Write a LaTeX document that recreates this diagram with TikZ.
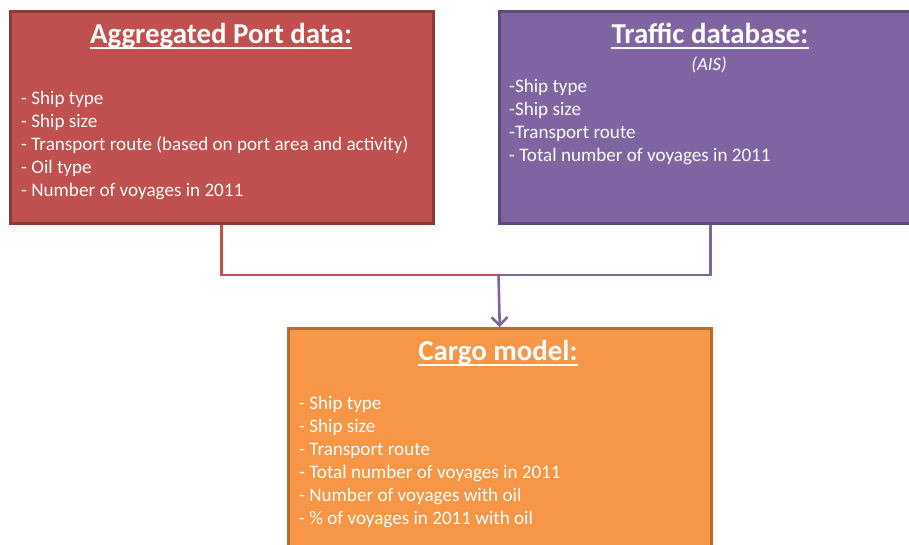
\documentclass[tikz,border=0pt]{standalone}
\usepackage{fontspec}
\setmainfont{Carlito}
\usetikzlibrary{arrows.meta}
\definecolor{redfill}{HTML}{C0504D}
\definecolor{redborder}{HTML}{8C3A38}
\definecolor{purfill}{HTML}{8064A2}
\definecolor{purborder}{HTML}{5D4A78}
\definecolor{orgfill}{HTML}{F79646}
\definecolor{orgborder}{HTML}{B66D31}
\begin{document}
\begin{tikzpicture}[x=1pt,y=-1pt,
  box/.style={draw, line width=2.5pt, minimum width=423pt, inner sep=0pt, anchor=north west},
  ttl/.style={text=white, font=\fontsize{28.9}{34}\selectfont\bfseries, inner sep=0pt, anchor=base},
  bodytext/.style={text=white, font=\fontsize{19.1}{23}\selectfont, inner sep=0pt, anchor=base west},
  uline/.style={white, line width=2.4pt},
  conn/.style={line width=2.6pt}]
\useasboundingbox (0,0) rectangle (909,544);
\clip (0,0) rectangle (909,544);
% boxes
\node[box, fill=redfill, draw=redborder, minimum height=212pt] (red) at (9,10) {};
\node[box, fill=purfill, draw=purborder, minimum height=212pt] (pur) at (498,10) {};
\node[box, fill=orgfill, draw=orgborder, minimum height=240pt] (org) at (287,327) {};
% titles
\node[ttl] (rt) at (221,43) {Aggregated Port data:};
\draw[uline] ([yshift=-5pt]rt.base west) -- ([yshift=-5pt]rt.base east);
\node[ttl] (pt) at (710,43) {Traffic database:};
\draw[uline] ([yshift=-5pt]pt.base west) -- ([yshift=-5pt]pt.base east);
\node[text=white, font=\fontsize{18.7}{22}\selectfont\itshape, inner sep=0pt, anchor=base] (ais) at (709,70) {(AIS)};
\node[ttl] (ot) at (498,360) {Cargo model:};
\draw[uline] ([yshift=-5pt]ot.base west) -- ([yshift=-5pt]ot.base east);
% body text
\foreach \t [count=\i from 0] in {{- Ship type},{- Ship size},{- Transport route (based on port area and activity)},{- Oil type},{- Number of voyages in 2011}}
  \node[bodytext] (rl\i) at (21,104+23*\i) {\t};
\foreach \t [count=\i from 0] in {{-Ship type},{-Ship size},{-Transport route},{- Total number of voyages in 2011}}
  \node[bodytext] (pl\i) at (509,92+23*\i) {\t};
\foreach \t [count=\i from 0] in {{- Ship type},{- Ship size},{- Transport route},{- Total number of voyages in 2011},{- Number of voyages with oil},{- \% of voyages in 2011 with oil}}
  \node[bodytext] (ol\i) at (299,409+23*\i) {\t};
% connectors
\coordinate (j) at (498.5,275);
\draw[conn, redfill] (red.south) |- (j);
\draw[conn, purfill] (pur.south) |- (j);
\draw[conn, purfill, -{Straight Barb[length=8pt,width=16pt]}] (j) -- (org.north);
\end{tikzpicture}
\end{document}
